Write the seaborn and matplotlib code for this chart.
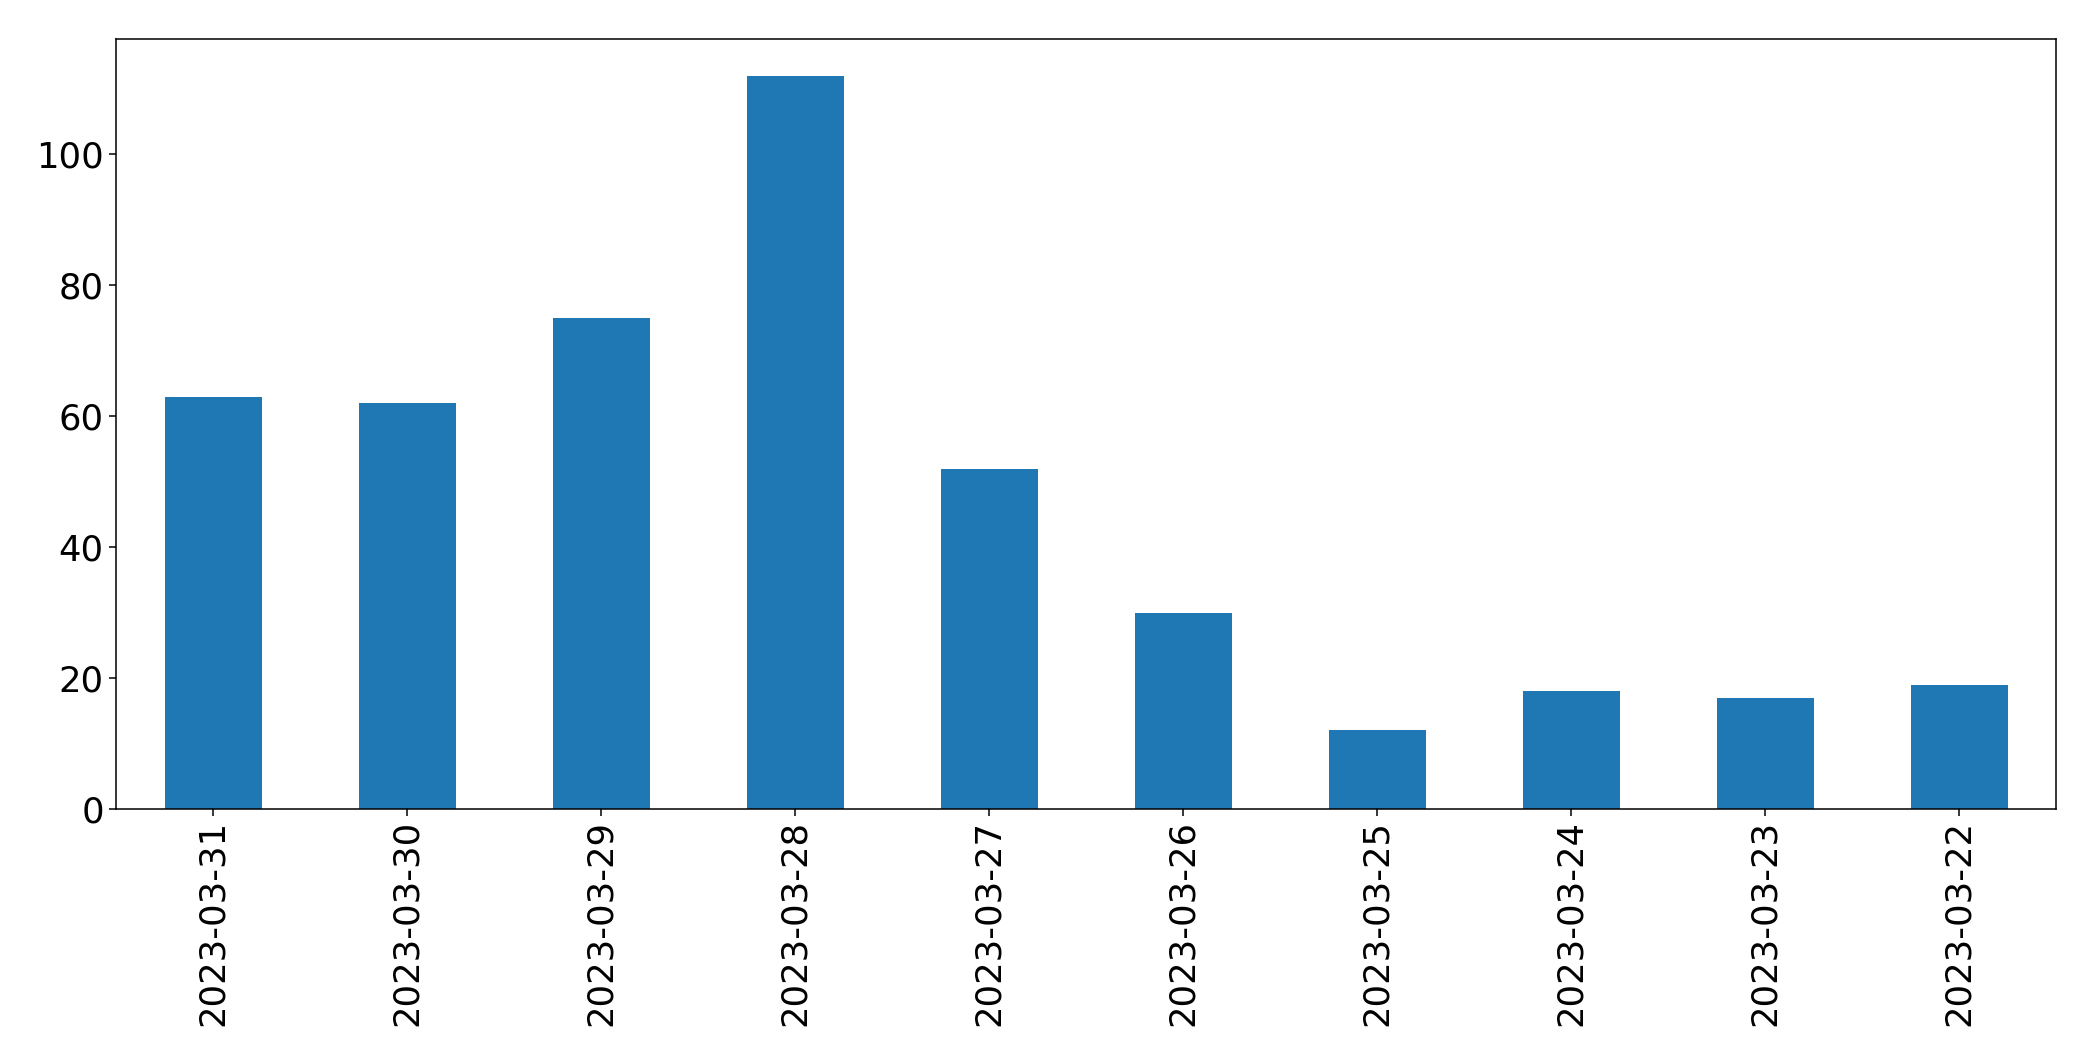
import matplotlib
matplotlib.use("Agg")
import matplotlib.pyplot as plt
import seaborn as sns
import pandas as pd

dates = ["2023-03-31", "2023-03-30", "2023-03-29", "2023-03-28", "2023-03-27",
         "2023-03-26", "2023-03-25", "2023-03-24", "2023-03-23", "2023-03-22"]
counts = [63, 62, 75, 112, 52, 30, 12, 18, 17, 19]

df = pd.DataFrame({"date": dates, "count": counts})

W, H = 2093, 1061
fig = plt.figure(figsize=(W / 100, H / 100), dpi=100)
ax = fig.add_axes([116 / W, (H - 809) / H, (2056 - 116) / W, (809 - 39) / H])

sns.barplot(data=df, x="date", y="count", order=dates, color="#1f77b4",
            saturation=1, width=0.5, ax=ax, errorbar=None, linewidth=0)

ax.set_xlim(-0.5, len(dates) - 0.5)
ax.set_ylim(0, max(counts) * 1.05)
ax.set_xlabel("")
ax.set_ylabel("")
ax.tick_params(axis="both", labelsize=25.5, length=5.3, width=1.1)
ax.tick_params(axis="x", rotation=90, pad=2.5)
for s in ax.spines.values():
    s.set_linewidth(1.1)

fig.savefig("out.png", dpi=100)
